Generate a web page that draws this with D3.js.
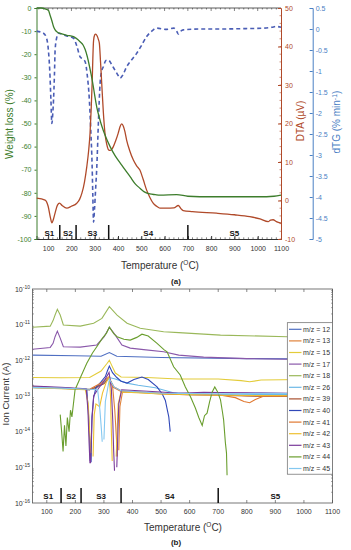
<!DOCTYPE html>
<html>
<head>
<meta charset="utf-8">
<title>TGA-DTA-MS</title>
<script src="https://d3js.org/d3.v7.min.js"></script>
<style>
  body { margin: 0; background: #fff; }
  text { font-family: "Liberation Sans", Arial, sans-serif; }
</style>
</head>
<body>
<script>
// ---------- panel (a) : thermal analysis ----------
var weightLoss = [[50,0],[70,0],[90,-0.5],[101,-1],[108,-3],[116,-5.5],[123,-8],[130,-9.5],[140,-10.5],[152,-11],[180,-11.8],
  [209,-12.4],[237,-14.6],[250,-16],[259,-18],[268,-21],[277,-25],[285,-29],[294,-34],[301,-38.5],[309,-43],[320,-47.5],
  [330,-51],[348,-56],[366,-60],[388,-64],[409,-67],[430,-70],[452,-73],[473,-76],[494,-78],[515,-79.7],[537,-80.5],
  [560,-80.8],[580,-81],[652,-80.8],[700,-81.5],[751,-81.7],[900,-81.7],[1038,-81.7],[1070,-81.5],[1100,-81]];

var dta = [[50,0.6],[87,0.1],[100,-1.5],[110,-4.5],[116,-5.8],[123,-4.8],[130,-3.2],[140,-1.2],[149,-0.7],[160,-1.3],
  [180,-2],[200,-1.5],[223,-0.7],[235,0.3],[245,1.9],[256,4.8],[266,8.8],[274,13],[280,17.5],[285,24],[289,30.5],
  [292,37],[295,41.5],[300,43],[304,43.2],[310,42.8],[316,41.8],[320,40.8],[325,36],[330,30.5],[337,23],[344,17.5],
  [352,14.5],[359,13.2],[366,13],[373,13.3],[380,14],[390,15.5],[401,17.5],[409,19.2],[416,19.9],[423,19.3],[430,17.8],
  [437,15.7],[450,13],[466,10.5],[480,9],[494,7.9],[508,5.5],[523,2.7],[537,0.8],[551,-0.7],[566,-1.5],[580,-2],
  [609,-2],[640,-1.9],[659,-1.3],[670,-2.1],[680,-2.6],[720,-2.9],[823,-3.3],[900,-3.7],[966,-4.2],[1010,-4.8],
  [1045,-5.5],[1055,-5.1],[1066,-5],[1080,-5.5],[1100,-5.9]];

var dtg = [[50,-0.05],[80,-0.1],[92,-0.2],[101,-0.5],[107,-1],[112,-1.7],[116,-2.25],[120,-2],[123,-1.7],[127,-1.1],
  [130,-0.5],[137,-0.2],[144,-0.1],[170,-0.15],[190,-0.18],[209,-0.22],[223,-0.4],[237,-0.66],[250,-0.72],[259,-0.78],
  [268,-1.1],[277,-1.69],[283,-2.4],[289,-3.28],[292,-4],[295,-4.6],[299,-4.3],[304,-3.8],[309,-3.28],[316,-2.2],
  [323,-1.3],[330,-1],[337,-0.9],[348,-0.75],[359,-0.74],[373,-0.85],[387,-0.98],[400,-1.1],[409,-1.17],[420,-1.1],
  [437,-0.9],[458,-0.74],[480,-0.58],[500,-0.4],[523,-0.18],[545,-0.05],[566,0.02],[609,-0.01],[640,0.02],[652,-0.05],
  [659,-0.12],[668,-0.06],[680,-0.02],[760,0],[837,0],[950,0.01],[1023,0.02],[1060,0.04],[1080,0.06],[1100,0.04]];

var tempTicks   = [100,200,300,400,500,600,700,800,900,1000,1100];
var weightTicks = [0,-10,-20,-30,-40,-50,-60,-70,-80,-90,-100];
var dtaTicks    = [50,40,30,20,10,0,-10];
var dtgTicks    = [0.5,0,-0.5,-1,-1.5,-2,-2.5,-3,-3.5,-4,-4.5,-5];

var stageEdges   = [150,220,360,700];
var stageNames   = ["S1","S2","S3","S4","S5"];
var stageLabelAt = [105,185,290,530,900];

// ---------- panel (b) : mass spectrometry ----------
var mz12 = [[50,1.4e-12],[200,1.35e-12],[290,1.3e-12],[319,1.65e-12],[345,1.3e-12],[500,1.2e-12],[800,1.12e-12],[1100,1.08e-12]];
var mz13 = [[50,1.85e-13],[100,1.75e-13],[150,1.7e-13],[200,1.6e-13],[250,1.5e-13],[275,1.7e-13],[300,2.4e-13],[318,3.3e-13],
  [330,2e-13],[338,4e-14],[344,6e-15],[347,2e-15],[349,null],[352,3e-15],[356,5e-14],[365,1.3e-13],[420,1.25e-13],
  [500,1.15e-13],[600,1.08e-13],[700,1.1e-13],[800,1.02e-13],[900,1e-13],[1000,1e-13],[1100,9.8e-14]];
var mz15 = [[50,3.3e-13],[150,3.25e-13],[250,3.3e-13],[290,5e-13],[310,8e-13],[319,1e-12],[328,7e-13],[340,4.4e-13],
  [360,3.4e-13],[450,3.3e-13],[560,3e-13],[700,3e-13],[780,2.7e-13],[810,2.5e-13],[850,2.8e-13],[1000,2.9e-13],[1100,2.9e-13]];
var mz17 = [[50,2.04e-12],[112,2.3e-12],[122,3e-12],[129,4.6e-12],[137,6.6e-12],[147,4.2e-12],[158,2.4e-12],[217,2.35e-12],
  [275,2.7e-12],[301,4.6e-12],[319,8.5e-12],[340,5.1e-12],[363,2.7e-12],[392,2.2e-12],[439,2e-12],[509,1.74e-12],
  [562,1.4e-12],[649,1.23e-12],[800,1.12e-12],[942,1.07e-12],[1100,1.05e-12]];
var mz18 = [[50,8.5e-12],[112,9.1e-12],[122,1.3e-11],[129,1.86e-11],[137,2.7e-11],[147,1.86e-11],[158,9.8e-12],[217,9.1e-12],
  [264,1.1e-11],[293,1.5e-11],[319,3.2e-11],[346,1.86e-11],[381,1.1e-11],[427,7.9e-12],[509,6.3e-12],[562,6e-12],
  [708,5.1e-12],[942,4.6e-12],[1100,4.3e-12]];
var mz26 = [[50,1.7e-13],[150,1.62e-13],[250,1.5e-13],[290,2e-13],[319,3.3e-13],[340,3e-13],[380,2.3e-13],[420,2e-13],
  [480,1.7e-13],[540,1.25e-13],[600,1.15e-13],[700,1.12e-13],[760,1.08e-13],[850,1.1e-13],[950,1.12e-13],[1100,1.05e-13]];
var mz39 = [[50,1.75e-13],[150,1.65e-13],[250,1.5e-13],[300,2.2e-13],[318,3.2e-13],[335,1.8e-13],[360,1.4e-13],[450,1.25e-13],
  [560,1.1e-13],[700,1.05e-13],[800,1e-13],[900,9.8e-14],[1100,9.5e-14]];
var mz40 = [[50,1.8e-13],[150,1.7e-13],[240,1.55e-13],[246,3e-14],[250,6e-15],[252,1.5e-15],[253,null],[255,1.4e-15],
  [258,2.6e-14],[264,9e-14],[272,1.7e-13],[290,2.5e-13],[305,3.5e-13],[312,5e-13],[319,6.9e-13],[330,4.5e-13],[345,3.3e-13],
  [360,2.6e-13],[381,2.3e-13],[405,2.9e-13],[433,3.4e-13],[455,2.9e-13],[486,1.8e-13],[505,1.1e-13],[515,7.5e-14],
  [522,4e-14],[527,2.6e-14],[532,1e-14]];
var mz41 = [[50,1.8e-13],[150,1.68e-13],[250,1.55e-13],[290,2.3e-13],[318,3.5e-13],[330,1.8e-13],[360,1.35e-13],[500,1.2e-13],
  [700,1.08e-13],[760,9e-14],[790,7e-14],[810,6.5e-14],[830,8e-14],[860,1e-13],[950,1.02e-13],[1100,9.6e-14]];
var mz42 = [[50,1.7e-13],[150,1.6e-13],[235,1.5e-13],[245,6e-14],[250,1e-14],[254,2.5e-15],[255,null],[262,2e-15],[266,3e-14],
  [272,6e-14],[285,5e-14],[295,1.2e-13],[308,2.4e-13],[319,3.5e-13],[323,1e-13],[326,1e-14],[329,1.5e-15],[330,null],
  [343,2e-15],[350,6e-14],[360,1.3e-13],[500,1.15e-13],[700,1.05e-13],[1100,1e-13]];
var mz43 = [[50,1.9e-13],[150,1.75e-13],[238,1.6e-13],[244,4e-14],[248,5e-15],[251,1.3e-15],[252,null],[253,1.3e-15],
  [258,2e-14],[264,1e-13],[280,1.6e-13],[300,2.6e-13],[318,4.6e-13],[326,1.6e-13],[331,2e-14],[334,3e-15],[337,8e-16],
  [338,null],[345,1e-15],[352,6e-14],[362,1.5e-13],[500,1.3e-13],[560,1.2e-13],[650,1.28e-13],[700,1.25e-13],
  [850,1.22e-13],[1000,1.18e-13],[1100,1.15e-13]];
var mz44 = [[147,3e-14],[152,1e-14],[157,2.8e-15],[162,1.5e-14],[167,4e-15],[172,2.5e-14],[178,1e-14],[183,4e-14],
  [188,2.6e-14],[199,1.5e-13],[217,3.2e-13],[240,8.3e-13],[260,1.6e-12],[275,2.4e-12],[295,4.2e-12],[309,5.8e-12],
  [319,8.5e-12],[335,5.5e-12],[346,4.6e-12],[370,3.9e-12],[392,3.7e-12],[415,4.4e-12],[433,5.4e-12],[455,4.8e-12],
  [486,3e-12],[510,2e-12],[521,1.74e-12],[544,6.6e-13],[567,3.9e-13],[585,1.8e-13],[603,9.5e-14],[620,4.6e-14],
  [632,2.5e-14],[644,1.5e-14],[652,2.8e-14],[661,3.3e-14],[670,7e-14],[679,1.3e-13],[688,1.8e-13],[698,1.3e-13],
  [708,7.8e-14],[715,3.5e-14],[719,2.1e-14],[725,5e-15],[729,2.5e-15],[731,6e-16]];
var mz45 = [[50,1.75e-13],[150,1.66e-13],[250,1.55e-13],[278,1.5e-13],[286,4e-14],[291,1.2e-14],[294,5.2e-15],[295,null],
  [300,6e-15],[305,7e-14],[319,3e-13],[335,1.8e-13],[360,1.4e-13],[500,1.2e-13],[700,1.15e-13],[800,1.18e-13],
  [900,1.2e-13],[1100,1.1e-13]];

var msLabels  = ["m/z = 12","m/z = 13","m/z = 15","m/z = 17","m/z = 18","m/z = 26","m/z = 39",
                 "m/z = 40","m/z = 41","m/z = 42","m/z = 43","m/z = 44","m/z = 45"];
var msColours = ["#4f6fc2","#e0823a","#e3cc3a","#8a58aa","#9ab85a","#6cb8e6","#a8502e",
                 "#3048b8","#e07830","#eec030","#7a3a9a","#6a9e2e","#84c8f0"];
var msSeries  = [mz12,mz13,mz15,mz17,mz18,mz26,mz39,mz40,mz41,mz42,mz43,mz44,mz45];
var ionDecades = [1e-16,1e-15,1e-14,1e-13,1e-12,1e-11,1e-10];

var green = "#3d7d2c", brown = "#b04a2a", dash = "#4a5db5", axisBlue = "#4a80c4", ink = "#333";

var svg = d3.select("body").append("svg").attr("width", 351).attr("height", 550);

// ================= (a) =================
var xA   = d3.scaleLinear().domain([50,1100]).range([36.5,281]);
var yW   = d3.scaleLinear().domain([-100,0]).range([239,8]);
var yDTA = d3.scaleLinear().domain([-10,50]).range([239,8]);
var yDTG = d3.scaleLinear().domain([-5,0.5]).range([239,8]);

var gA = svg.append("g");

// top frame line with small ticks
gA.append("line").attr("x1",36.5).attr("x2",281).attr("y1",8).attr("y2",8).attr("stroke",ink).attr("stroke-width",0.8);
gA.selectAll(".tt").data(d3.range(60,1100,20)).join("line")
  .attr("x1",d => xA(d)).attr("x2",d => xA(d)).attr("y1",8).attr("y2",d => d%100==0 ? 11 : 9.5)
  .attr("stroke",ink).attr("stroke-width",0.6);

// bottom axis
var axA = gA.append("g").attr("transform","translate(0,239)")
  .call(d3.axisBottom(xA).tickValues(tempTicks).tickSize(-3).tickPadding(7).tickFormat(d3.format("d")));
axA.select(".domain").attr("stroke",ink).attr("stroke-width",1);
axA.selectAll(".tick line").attr("stroke",ink);
axA.selectAll("text").attr("font-size",7).attr("fill",ink);
gA.selectAll(".bt").data(d3.range(60,1100,20)).join("line")
  .attr("x1",d => xA(d)).attr("x2",d => xA(d)).attr("y1",239).attr("y2",237.3)
  .attr("stroke",ink).attr("stroke-width",0.6);

// left axis (weight)
var axW = gA.append("g").attr("transform","translate(36.5,0)")
  .call(d3.axisLeft(yW).tickValues(weightTicks).tickSize(2).tickPadding(3).tickFormat(d => String(d)));
axW.selectAll("path,line").attr("stroke",green);
axW.selectAll("text").attr("font-size",7).attr("fill",green);

// DTA axis
var axD = gA.append("g").attr("transform","translate(281,0)")
  .call(d3.axisRight(yDTA).tickValues(dtaTicks).tickSize(-3).tickPadding(4).tickFormat(d => String(d)));
axD.selectAll("path,line").attr("stroke",brown);
axD.selectAll("text").attr("font-size",7).attr("fill",brown);
gA.selectAll(".dm").data(d3.range(-10,50,2)).join("line")
  .attr("x1",281).attr("x2",279.5).attr("y1",d => yDTA(d)).attr("y2",d => yDTA(d)).attr("stroke",brown).attr("stroke-width",0.6);

// dTG axis
var axG = gA.append("g").attr("transform","translate(312.7,0)")
  .call(d3.axisRight(yDTG).tickValues(dtgTicks).tickSize(-3).tickPadding(3).tickFormat(d => String(+d.toFixed(1))));
axG.selectAll("path,line").attr("stroke",axisBlue);
axG.selectAll("text").attr("font-size",7).attr("fill",axisBlue);

// curves
var clipA = svg.append("clipPath").attr("id","clipA").append("rect").attr("x",36.5).attr("y",7).attr("width",245).attr("height",233);
var plotA = gA.append("g").attr("clip-path","url(#clipA)");

plotA.append("path").datum(dtg)
  .attr("d", d3.line().curve(d3.curveMonotoneX).x(d => xA(d[0])).y(d => yDTG(d[1])))
  .attr("fill","none").attr("stroke",dash).attr("stroke-width",1.6).attr("stroke-dasharray","4,3");
plotA.append("path").datum(dta)
  .attr("d", d3.line().curve(d3.curveMonotoneX).x(d => xA(d[0])).y(d => yDTA(d[1])))
  .attr("fill","none").attr("stroke",brown).attr("stroke-width",1.3);
plotA.append("path").datum(weightLoss)
  .attr("d", d3.line().curve(d3.curveMonotoneX).x(d => xA(d[0])).y(d => yW(d[1])))
  .attr("fill","none").attr("stroke",green).attr("stroke-width",1.3);

// stages
function drawStages(g, xs, yBase, lineTop, labelY) {
  g.selectAll(".edge").data(stageEdges).join("line")
    .attr("x1",d => xs(d)).attr("x2",d => xs(d)).attr("y1",lineTop).attr("y2",yBase)
    .attr("stroke","#111").attr("stroke-width",1.5);
  g.selectAll(".sname").data(stageNames).join("text")
    .attr("x",(d,i) => xs(stageLabelAt[i])).attr("y",labelY).attr("text-anchor","middle")
    .attr("font-size",8).attr("font-weight","bold").attr("fill","#111").text(d => d);
}
drawStages(gA.append("g"), xA, 239, 225, 236);

// titles
gA.append("text").attr("transform","translate(13,124) rotate(-90)").attr("text-anchor","middle")
  .attr("font-size",10).attr("fill",green).text("Weight loss (%)");
gA.append("text").attr("transform","translate(304,121) rotate(-90)").attr("text-anchor","middle")
  .attr("font-size",10).attr("fill",brown).text("DTA (µV)");
var tG = gA.append("text").attr("transform","translate(340,122) rotate(-90)").attr("text-anchor","middle")
  .attr("font-size",10).attr("fill",axisBlue);
tG.append("tspan").text("dTG (% min");
tG.append("tspan").attr("dy",-3.5).attr("font-size",7).text("-1");
tG.append("tspan").attr("dy",3.5).text(")");

function tempTitle(g, x, y) {
  var t = g.append("text").attr("x",x).attr("y",y).attr("text-anchor","middle").attr("font-size",10).attr("fill",ink);
  t.append("tspan").text("Temperature (");
  t.append("tspan").attr("dy",-4).attr("font-size",6.5).text("O");
  t.append("tspan").attr("dy",4).text("C)");
}
tempTitle(gA, 160, 269);
gA.append("text").attr("x",176).attr("y",284).attr("text-anchor","middle")
  .attr("font-family","Liberation Serif, serif").attr("font-weight","bold").attr("font-size",8).attr("fill","#222").text("(a)");

// ================= (b) =================
var xB = d3.scaleLinear().domain([50,1100]).range([32.5,332.5]);
var yB = d3.scaleLog().domain([1e-16,1e-10]).range([503,289]);
var gB = svg.append("g");

// frame
gB.append("rect").attr("x",32.5).attr("y",289).attr("width",300).attr("height",214)
  .attr("fill","none").attr("stroke","#555").attr("stroke-width",0.8);

// x ticks and labels
gB.selectAll(".xt").data(tempTicks).join("g").each(function(d) {
  var g = d3.select(this), x = xB(d);
  g.append("line").attr("x1",x).attr("x2",x).attr("y1",503).attr("y2",500).attr("stroke","#555").attr("stroke-width",0.7);
  g.append("line").attr("x1",x).attr("x2",x).attr("y1",289).attr("y2",292).attr("stroke","#555").attr("stroke-width",0.7);
  g.append("text").attr("x",x).attr("y",514).attr("text-anchor","middle").attr("font-size",7).attr("fill",ink).text(d);
});

// log ticks
var minorLog = [];
ionDecades.slice(0,-1).forEach(function(p) { for (var m = 2; m < 10; m++) minorLog.push(p*m); });
gB.selectAll(".ml").data(minorLog).join("line")
  .attr("x1",32.5).attr("x2",34).attr("y1",d => yB(d)).attr("y2",d => yB(d)).attr("stroke","#555").attr("stroke-width",0.5);
gB.selectAll(".mr").data(minorLog).join("line")
  .attr("x1",332.5).attr("x2",331).attr("y1",d => yB(d)).attr("y2",d => yB(d)).attr("stroke","#555").attr("stroke-width",0.5);
gB.selectAll(".yl").data(ionDecades).join("text")
  .attr("x",30).attr("y",d => yB(d)+2.5).attr("text-anchor","end").attr("font-size",7).attr("fill",ink)
  .each(function(d) {
    var t = d3.select(this);
    t.append("tspan").text("10");
    t.append("tspan").attr("dy",-3).attr("font-size",5).text(String(Math.round(Math.log10(d))));
  });

// series
var clipB = svg.append("clipPath").attr("id","clipB").append("rect").attr("x",32.5).attr("y",289).attr("width",300).attr("height",214);
var plotB = gB.append("g").attr("clip-path","url(#clipB)");
var lineB = d3.line().defined(d => d[1] != null).x(d => xB(d[0])).y(d => yB(d[1]));
plotB.selectAll(".ms").data(msSeries).join("path")
  .attr("d", lineB).attr("fill","none").attr("stroke",(d,i) => msColours[i]).attr("stroke-width",1.1);

drawStages(gB.append("g"), xB, 503, 488, 499);

// legend
var lg = gB.append("g");
lg.append("rect").attr("x",287.3).attr("y",322.7).attr("width",45.2).attr("height",151.5)
  .attr("fill","#fff").attr("stroke","#666").attr("stroke-width",0.7);
msLabels.forEach(function(lab, i) {
  var y = 329.3 + i*11.6;
  lg.append("line").attr("x1",289).attr("x2",301.5).attr("y1",y).attr("y2",y).attr("stroke",msColours[i]).attr("stroke-width",1.2);
  lg.append("text").attr("x",303).attr("y",y+2.5).attr("font-size",7).attr("fill",ink).text(lab);
});

gB.append("text").attr("transform","translate(9,394) rotate(-90)").attr("text-anchor","middle")
  .attr("font-size",9.5).attr("fill",ink).text("Ion Current (A)");
tempTitle(gB, 183, 531);
gB.append("text").attr("x",176).attr("y",545).attr("text-anchor","middle")
  .attr("font-family","Liberation Serif, serif").attr("font-weight","bold").attr("font-size",8).attr("fill","#222").text("(b)");
</script>
</body>
</html>
